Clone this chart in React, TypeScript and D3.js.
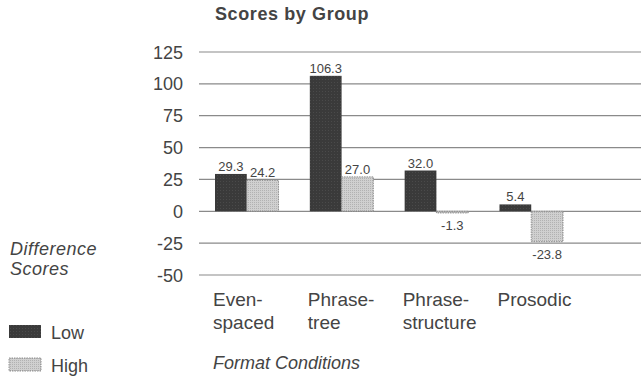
import React from "react";
import * as d3 from "d3";

const categories: string[][] = [["Even-", "spaced"], ["Phrase-", "tree"], ["Phrase-", "structure"], ["Prosodic"]];
const categoryKeys = ["Even-spaced", "Phrase-tree", "Phrase-structure", "Prosodic"];
const groups = ["Low", "High"];
const lowValues = [29.3, 106.3, 32.0, 5.4];
const highValues = [24.2, 27.0, -1.3, -23.8];
const yTicks = [125, 100, 75, 50, 25, 0, -25, -50];

const W = 641;
const H = 387;
const FONT = "'Liberation Sans', Arial, Helvetica, sans-serif";
const TEXT = "#444444";

export default function App() {
  const y = d3.scaleLinear().domain([-50, 125]).range([275, 52]);
  const x = d3.scaleBand<string>().domain(categoryKeys).range([215, 563]).paddingInner(0.33).paddingOuter(0);
  const xi = d3.scaleBand<string>().domain(groups).range([0, x.bandwidth()]);

  const series = [
    { key: "Low", values: lowValues },
    { key: "High", values: highValues },
  ];

  return (
    <svg width={W} height={H} style={{ position: "absolute", left: 0, top: 0, background: "#fff" }} fontFamily={FONT}>
      <defs>
        <pattern id="dots" width="2" height="2" patternUnits="userSpaceOnUse">
          <rect width="2" height="2" fill="#d0d0d0" />
          <rect width="1" height="1" fill="#b2b2b2" />
        </pattern>
        <pattern id="dark" width="3" height="3" patternUnits="userSpaceOnUse">
          <rect width="3" height="3" fill="#3a3a3a" />
          <rect x="1" y="1" width="1" height="1" fill="#4a4a4a" />
        </pattern>
      </defs>
      <text x={215} y={20} fontSize={18} fontWeight="bold" fill={TEXT} letterSpacing={0.6}>
        Scores by Group
      </text>
      {yTicks.map((t) => (
        <g key={t}>
          <line x1={199} x2={641} y1={y(t)} y2={y(t)} stroke="#8a8a8a" strokeWidth={1.2} />
          <text x={183} y={y(t) + 6.5} textAnchor="end" fontSize={18} fill={TEXT}>
            {t}
          </text>
        </g>
      ))}
      {series.map((s) =>
        s.values.map((v, i) => {
          const bx = (x(categoryKeys[i]) as number) + (xi(s.key) as number);
          const bw = xi.bandwidth();
          const top = y(Math.max(0, v));
          const bottom = y(Math.min(0, v));
          const cx = bx + bw / 2;
          return (
            <g key={s.key + i}>
              <rect
                x={bx}
                y={top}
                width={bw}
                height={Math.max(1, bottom - top)}
                fill={s.key === "Low" ? "url(#dark)" : "url(#dots)"}
                stroke={s.key === "Low" ? "none" : "#7a7a7a"}
                strokeWidth={0.8}
                strokeDasharray={s.key === "Low" ? undefined : "1.5 1"}
              />
              <text
                x={cx}
                y={v >= 0 ? top - 3 : bottom + 17}
                textAnchor="middle"
                fontSize={13}
                fill={TEXT}
              >
                {v.toFixed(1)}
              </text>
            </g>
          );
        })
      )}
      {categories.map((lines, i) => (
        <text key={i} x={(x(categoryKeys[i]) as number) - 2} y={306} fontSize={19} fill={TEXT}>
          {lines.map((l, j) => (
            <tspan key={j} x={(x(categoryKeys[i]) as number) - 2} y={306 + j * 23}>
              {l}
            </tspan>
          ))}
        </text>
      ))}
      <text x={213} y={369} fontSize={18} fontStyle="italic" fill={TEXT}>
        Format Conditions
      </text>
      <text x={10} y={255} fontSize={18} fontStyle="italic" fill={TEXT} letterSpacing={0.5}>
        Difference
      </text>
      <text x={10} y={275} fontSize={18} fontStyle="italic" fill={TEXT} letterSpacing={0.5}>
        Scores
      </text>
      <rect x={9} y={325} width={32} height={13} fill="url(#dark)" />
      <text x={51} y={339} fontSize={18} fill={TEXT}>
        Low
      </text>
      <rect x={9} y={358} width={32} height={13} fill="url(#dots)" stroke="#7a7a7a" strokeWidth={0.8} strokeDasharray="1.5 1" />
      <text x={51} y={372} fontSize={18} fill={TEXT}>
        High
      </text>
    </svg>
  );
}
